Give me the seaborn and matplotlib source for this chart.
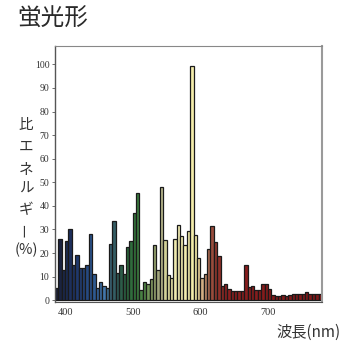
import matplotlib
matplotlib.use("Agg")
import matplotlib.pyplot as plt
import seaborn as sns
import numpy as np
import pandas as pd
from matplotlib.colors import LinearSegmentedColormap, Normalize

# ---- data ----
wavelength_start = list(range(385, 780, 5))  # 79 bins, 5 nm each
energy = [
    5, 26, 13, 25, 30, 15, 19, 13.5, 13.5, 15,
    28, 11, 5, 7.5, 6, 5, 24, 33.5, 11.5, 15,
    11, 22.5, 25, 37, 45.5, 4.5, 7.5, 7, 9, 23.5,
    13, 48, 25.5, 10.5, 9.5, 26, 32, 27, 23.5, 29.5,
    99.5, 27.5, 18, 9.3, 11, 21.7, 31.6, 24.6, 18.8, 6,
    6.8, 4.7, 4, 4, 3.8, 3.8, 15, 5.7, 6, 4.3,
    4.5, 6.7, 6.7, 4.8, 2.1, 1.9, 1.9, 2.1, 1.9, 2.1,
    2.8, 2.8, 2.8, 2.8, 3.3, 2.8, 2.8, 2.5, 2.5,
]
x_ticks = [400, 500, 600, 700]
y_ticks = list(range(0, 101, 10))
title = "蛍光形"
ylabel_chars = ["比", "エ", "ネ", "ル", "ギ", "ー", "(%)"]
xlabel = "波長(nm)"

centers = [w + 2.5 for w in wavelength_start]
df = pd.DataFrame({"nm": centers, "energy": energy})

# spectral colouring by wavelength
anchors = [
    (385, "#1a1e33"), (400, "#1b2a52"), (420, "#203a70"), (440, "#2b558c"),
    (458, "#4679ad"), (466, "#3a6276"), (478, "#2d5850"), (490, "#2b633c"),
    (505, "#35773b"), (517, "#548748"), (530, "#8f9f66"), (540, "#aaa886"),
    (550, "#dedc9c"), (565, "#f1ecb2"), (592, "#f3eca8"), (600, "#d9ba8c"),
    (610, "#b27c5e"), (620, "#8f3b30"), (640, "#8a1f1f"), (780, "#7d1717"),
]
lo, hi = anchors[0][0], anchors[-1][0]
cmap = LinearSegmentedColormap.from_list(
    "spec", [((a - lo) / (hi - lo), c) for a, c in anchors])
norm = Normalize(lo, hi)

sns.set_theme(style="white")
plt.rcParams["font.family"] = ["Noto Sans CJK JP", "DejaVu Sans"]

fig = plt.figure(figsize=(3.5, 3.5), dpi=100)
ax = fig.add_axes([0.157, 0.137, 0.763, 0.731])

sns.barplot(data=df, x="nm", y="energy", native_scale=True, width=1.0,
            color="#888888", edgecolor="#1a1a1a", linewidth=0.9, ax=ax,
            errorbar=None)
for patch, c in zip(ax.patches, centers):
    patch.set_facecolor(cmap(norm(c)))

ax.set_xlim(385, 780)
ax.set_ylim(-0.8, 107.7)
ax.set_xticks(x_ticks)
ax.set_yticks(y_ticks)
ax.set_xticklabels([str(t) for t in x_ticks], family="Liberation Serif",
                   fontsize=7.5, color="#333333")
ax.set_yticklabels([str(t) for t in y_ticks], family="Liberation Serif",
                   fontsize=7, color="#333333")
ax.tick_params(axis="both", direction="out", length=2, width=0.6,
               color="#555555", pad=2, left=True, bottom=False)
ax.set_xlabel("")
ax.set_ylabel("")

for side, col, lw in [("left", "#555555", 1.0), ("right", "#9a9a9a", 1.5),
                      ("top", "#888888", 0.8), ("bottom", "#555555", 0.8)]:
    ax.spines[side].set_visible(True)
    ax.spines[side].set_color(col)
    ax.spines[side].set_linewidth(lw)

fig.text(0.05, 0.945, title, fontsize=17, color="#2a2a2a",
         ha="left", va="center")

ys = [0.643, 0.58, 0.517, 0.46, 0.4, 0.345, 0.285]
for ch, yy in zip(ylabel_chars, ys):
    rot = 90 if ch == "ー" else 0
    fig.text(0.074, yy, ch, fontsize=10.5, color="#333333",
             ha="center", va="center", rotation=rot)

fig.text(0.972, 0.05, xlabel, fontsize=11, color="#333333",
         ha="right", va="center")

fig.savefig("out.png", dpi=100, facecolor="white")
